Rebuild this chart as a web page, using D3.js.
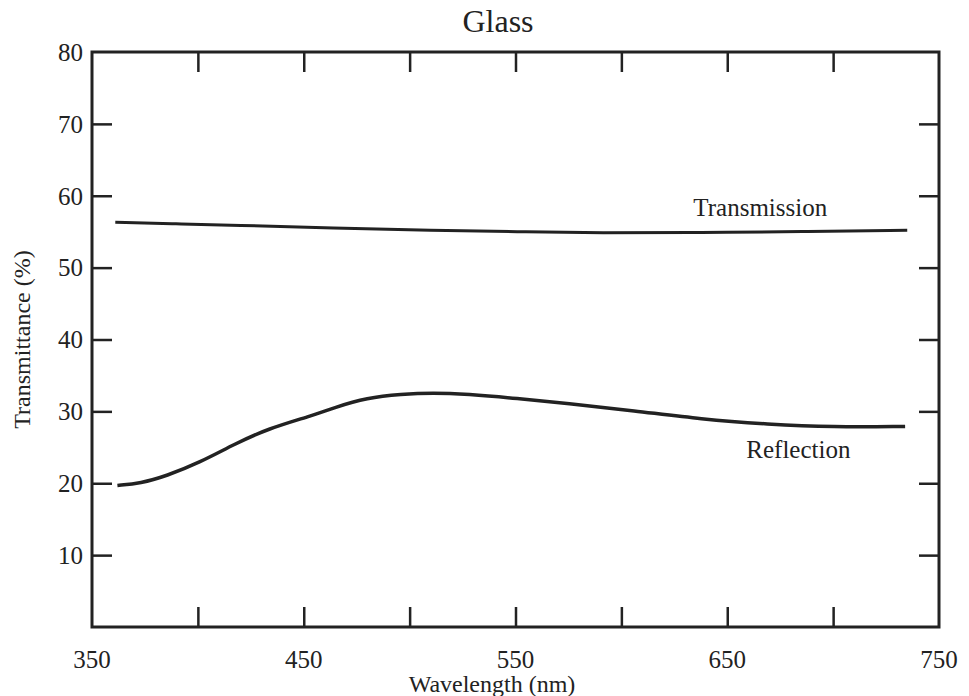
<!DOCTYPE html>
<html>
<head>
<meta charset="utf-8">
<script src="https://cdn.jsdelivr.net/npm/d3@7"></script>
<style>
  body { margin: 0; background: #fff; }
  text { font-family: "Liberation Serif", "Times New Roman", serif; fill: #222; }
</style>
</head>
<body>
<div id="chart"></div>
<script>
// values
const transWl  = [361, 390, 417, 464, 511, 551, 590, 638, 685, 735];
const transVal = [56.3, 56.1, 55.9, 55.5, 55.2, 55.0, 54.8, 54.9, 55.0, 55.2];

const reflWl  = [362, 373, 385, 401, 417, 433, 455, 464, 480, 496, 511, 527, 551, 574, 606, 638, 669, 700, 734];
const reflVal = [19.7, 20.0, 21.0, 22.9, 25.4, 27.6, 29.5, 30.5, 31.9, 32.4, 32.6, 32.4, 31.8, 31.1, 30.1, 28.9, 28.2, 27.8, 27.9];

const xTicks = [350, 400, 450, 500, 550, 600, 650, 700, 750];
const xLabels = [350, 450, 550, 650, 750];
const yTicks = [10, 20, 30, 40, 50, 60, 70];
const yLabels = [10, 20, 30, 40, 50, 60, 70, 80];

const W = 969, H = 696;
const margin = {top: 52, right: 30, bottom: 69, left: 92},
    width = W - margin.left - margin.right,
    height = H - margin.top - margin.bottom;

const svg = d3.select("#chart").append("svg").attr("width", W).attr("height", H)
  .append("g").attr("transform", `translate(${margin.left},${margin.top})`);

const x = d3.scaleLinear().domain([350, 750]).range([0, width]);
const y = d3.scaleLinear().domain([0, 80]).range([height, 0]);

const tickLen = 20;

// inside ticks, all four sides
svg.append("g").call(d3.axisBottom(x).tickValues(xTicks.slice(1, -1)).tickSize(tickLen).tickFormat(""))
  .attr("transform", `translate(0,${height - tickLen})`);
svg.append("g").call(d3.axisTop(x).tickValues(xTicks.slice(1, -1)).tickSize(-tickLen).tickFormat(""));
svg.append("g").call(d3.axisLeft(y).tickValues(yTicks).tickSize(-tickLen).tickFormat(""));
svg.append("g").call(d3.axisRight(y).tickValues(yTicks).tickSize(tickLen).tickFormat(""))
  .attr("transform", `translate(${width - tickLen},0)`);
svg.selectAll(".domain").remove();
svg.selectAll(".tick line").attr("stroke", "#222").attr("stroke-width", 2.5);

// frame
svg.append("rect").attr("x", 0).attr("y", 0).attr("width", width).attr("height", height)
  .attr("fill", "none").attr("stroke", "#222").attr("stroke-width", 3);

// tick labels
svg.selectAll(".xl").data(xLabels).enter().append("text")
  .attr("x", d => x(d)).attr("y", height + 41)
  .attr("text-anchor", "middle").attr("font-size", 25).text(d => d);
svg.selectAll(".yl").data(yLabels).enter().append("text")
  .attr("x", -9).attr("y", d => y(d)).attr("dy", "0.35em")
  .attr("text-anchor", "end").attr("font-size", 25).text(d => d);

// lines
const line = d3.line().x(d => x(d[0])).y(d => y(d[1])).curve(d3.curveBasis);
svg.append("path").datum(d3.zip(transWl, transVal)).attr("d", line)
  .attr("fill", "none").attr("stroke", "#222").attr("stroke-width", 3);
svg.append("path").datum(d3.zip(reflWl, reflVal)).attr("d", line)
  .attr("fill", "none").attr("stroke", "#222").attr("stroke-width", 3.5);

// series labels
svg.append("text").attr("x", x(634)).attr("y", y(57.2)).attr("font-size", 25).text("Transmission");
svg.append("text").attr("x", x(659)).attr("y", y(23.5)).attr("font-size", 25).text("Reflection");

// titles
svg.append("text").attr("x", 406).attr("y", -20).attr("text-anchor", "middle")
  .attr("font-size", 32).text("Glass");
svg.append("text").attr("x", 400).attr("y", height + 65).attr("text-anchor", "middle")
  .attr("font-size", 24).text("Wavelength (nm)");
svg.append("text").attr("transform", `translate(-62,${y(40)}) rotate(-90)`)
  .attr("text-anchor", "middle").attr("font-size", 24).text("Transmittance (%)");
</script>
</body>
</html>
